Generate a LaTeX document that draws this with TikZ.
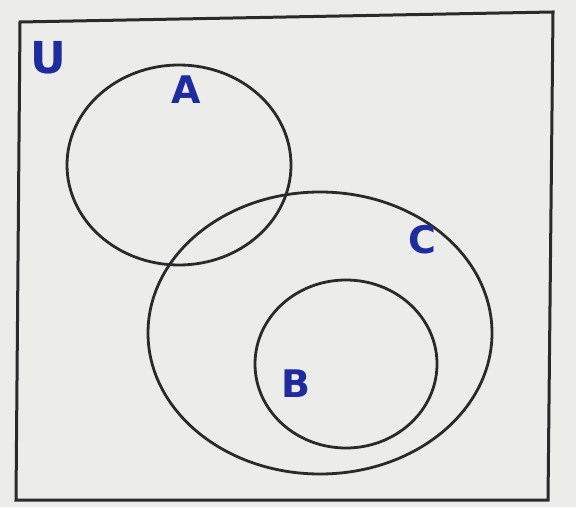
\documentclass[tikz,border=0pt]{standalone}
\usepackage{fontspec}
\setmainfont{DejaVu Sans}
\usetikzlibrary{shapes.geometric}
\definecolor{paper}{HTML}{ECECEA}
\definecolor{ink}{HTML}{2A2A2A}
\definecolor{pen}{HTML}{1F2C9E}
\tikzset{
  setshape/.style={draw=ink, line width=1.4pt, ellipse, inner sep=0pt},
  setlabel/.style={text=pen, font=\bfseries\fontsize{19}{20}\selectfont, inner sep=0pt}
}
\begin{document}
\begin{tikzpicture}[x=0.5pt,y=-0.5pt]
\fill[paper] (0,0) rectangle (576,507);
\useasboundingbox (0,0) rectangle (576,507);
\draw[ink, line width=1.5pt] (20,22) -- (553,12) -- (548,500) -- (16,500) -- cycle;
\node[setshape, minimum width=112pt, minimum height=100pt] (A) at (179,165) {};
\node[setshape, minimum width=172pt, minimum height=141pt] (C) at (320,333) {};
\node[setshape, minimum width=91pt, minimum height=84pt] (B) at (346,364) {};
\node[setlabel, font=\bfseries\fontsize{22}{24}\selectfont] (U) at (48,58) {U};
\node[setlabel] (lA) at (186,90) {A};
\node[setlabel] (lC) at (422,240) {C};
\node[setlabel] (lB) at (296,384) {B};
\end{tikzpicture}
\end{document}
